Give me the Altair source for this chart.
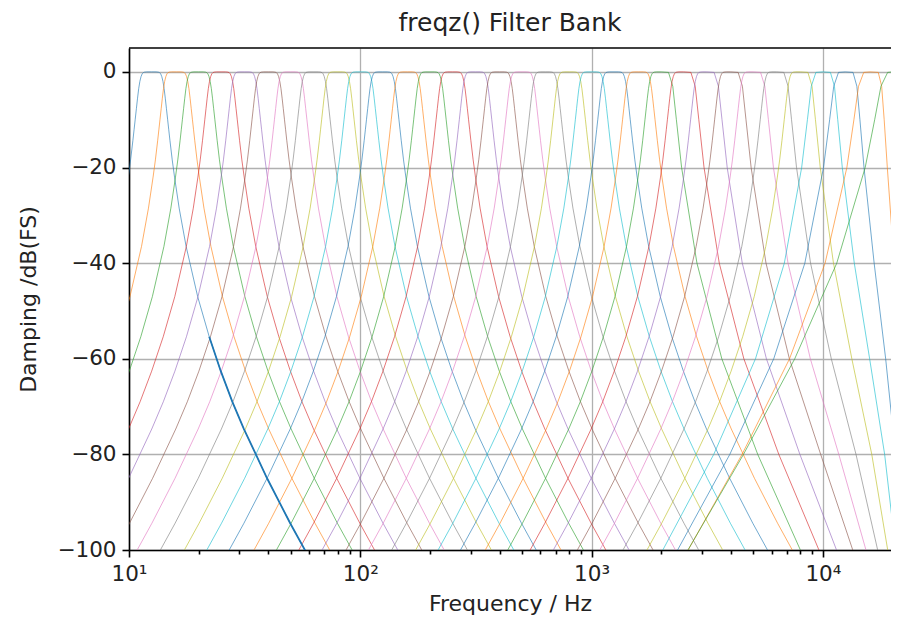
import altair as alt
import pandas as pd

title_text = "freqz() Filter Bank"
x_title = "Frequency / Hz"
y_title = "Damping /dB(FS)"

# centre frequencies of the 1/3-octave bands (Hz)
band_centers_hz = [12.5, 16, 20, 25, 31.5, 40, 50, 63, 80, 100, 125, 160, 200,
                   250, 315, 400, 500, 630, 800, 1000, 1250, 1600, 2000, 2500,
                   3150, 4000, 5000, 6300, 8000, 10000, 12500, 16000, 20000]

# shape of an ordinary band's skirt: distance from centre (decades) -> dB
skirt_offset_dec = [0.0, 0.02, 0.03, 0.035, 0.04, 0.045, 0.05, 0.055, 0.06, 0.065,
                    0.07, 0.075, 0.08, 0.09, 0.10, 0.12, 0.15, 0.20, 0.25, 0.30,
                    0.35, 0.40, 0.50, 0.60, 0.70, 0.80]
skirt_db = [0.0, 0.0, -0.05, -0.15, -0.4, -1.0, -2.0, -3.5, -5.5, -7.7,
            -9.9, -12.1, -14.3, -18.4, -22.0, -28.5, -36.5, -47.0, -55.4, -62.6,
            -69.0, -74.7, -85.0, -94.4, -103.2, -111.8]

# near the top of the range the skirts are squeezed towards the upper end:
# frequency (Hz) at which each of these levels is reached
level_db = [-0.1, -3, -10, -20, -40, -60, -80, -100, -110]
upper_skirt_hz = {
    2000:  [2150, 2244, 2326, 2450, 2854, 3656, 5227, 7993, 9852],
    2500:  [2687, 2805, 2908, 3063, 3564, 4553, 6448, 9613, 11603],
    3150:  [3386, 3534, 3663, 3857, 4482, 5699, 7954, 11453, 13477],
    4000:  [4301, 4488, 4651, 4895, 5676, 7164, 9782, 13463, 15393],
    5000:  [5377, 5610, 5812, 6113, 7066, 8825, 11719, 15354, 17089],
    6300:  [6778, 7069, 7319, 7691, 8844, 10873, 13906, 17250, 18703],
    8000:  [8612, 8976, 9286, 9741, 11109, 13340, 16267, 19066, 20193],
    10000: [10777, 11220, 11593, 12130, 13669, 15925, 18494, 20626, 21419],
    12500: [13497, 14025, 14460, 15057, 16657, 18680, 20592, 21981, 22468],
    16000: [17353, 17952, 18407, 18990, 20331, 21619, 22578, 23183, 23385],
    20000: [22009, 22440, 22700, 22965, 23374, 23638, 23795, 23884, 23913],
}
lower_skirt_hz = {
    10000: [9328, 8912, 8572, 8095, 6813, 5112, 3374, 2032, 1547],
    12500: [11681, 11141, 10694, 10063, 8355, 6130, 3959, 2354, 1787],
    16000: [15015, 14260, 13619, 12696, 10223, 7175, 4472, 2614, 1976],
    20000: [19057, 17825, 16745, 15236, 11480, 7556, 4536, 2610, 1967],
}

x_major = [10, 100, 1000, 10000]
x_minor = [20, 30, 40, 50, 60, 70, 80, 90,
           200, 300, 400, 500, 600, 700, 800, 900,
           2000, 3000, 4000, 5000, 6000, 7000, 8000, 9000]
y_ticks = [0, -20, -40, -60, -80, -100]
x_domain = [10, 19700]
y_domain = [-100, 5]

palette = ["#1f77b4", "#ff7f0e", "#2ca02c", "#d62728", "#9467bd",
           "#8c564b", "#e377c2", "#7f7f7f", "#bcbd22", "#17becf"]

rows = []
for b, fc in enumerate(band_centers_hz):
    pts = []
    if fc in lower_skirt_hz:
        pts += list(zip(reversed(lower_skirt_hz[fc]), reversed(level_db)))
    else:
        pts += [(fc / 10 ** o, d) for o, d in zip(reversed(skirt_offset_dec[1:]), reversed(skirt_db[1:]))]
    pts.append((fc, 0.0))
    if fc in upper_skirt_hz:
        pts += list(zip(upper_skirt_hz[fc], level_db))
    else:
        pts += [(fc * 10 ** o, d) for o, d in zip(skirt_offset_dec[1:], skirt_db[1:])]
    for i, (f, d) in enumerate(pts):
        rows.append({"band": b, "i": i, "f": f, "db": d})
df = pd.DataFrame(rows)

colors = [palette[k % len(palette)] for k in range(len(band_centers_hz))]

W, H = 762, 502
FONT = "DejaVu Sans"
major_test = "indexof([10, 100, 1000, 10000], datum.value) >= 0"

x_axis = alt.Axis(
    values=x_major + x_minor,
    labelExpr=("datum.value == 10 ? '10\u00b9' : datum.value == 100 ? '10\u00b2' : "
               "datum.value == 1000 ? '10\u00b3' : datum.value == 10000 ? '10\u2074' : ''"),
    tickSize={"condition": {"test": major_test, "value": 7}, "value": 4},
    gridOpacity={"condition": {"test": major_test, "value": 1}, "value": 0},
    title=x_title, labelPadding=6, titlePadding=9, labelFlush=False,
)
y_axis = alt.Axis(
    values=y_ticks,
    labelExpr="replace(format(datum.value, 'd'), '-', '\u2212')",
    tickSize=7, labelPadding=6, labelFlush=False,
    title=y_title, titlePadding=16,
)

x_enc = alt.X("f:Q", scale=alt.Scale(type="log", domain=x_domain, nice=False), axis=x_axis)
y_enc = alt.Y("db:Q", scale=alt.Scale(domain=y_domain, nice=False, zero=False), axis=y_axis)

lines = alt.Chart(df).mark_line(strokeWidth=0.7, opacity=0.9, clip=True).encode(
    x=x_enc, y=y_enc,
    color=alt.Color("band:N", scale=alt.Scale(domain=list(range(len(band_centers_hz))), range=colors), legend=None),
    order="i:Q",
)

# the lowest band's upper skirt shows up as a heavier line in the lower part
heavy = alt.Chart(df).transform_filter(
    (alt.datum.band == 0) & (alt.datum.f > band_centers_hz[0]) & (alt.datum.db <= -55)
).mark_line(strokeWidth=1.8, color=palette[0], clip=True).encode(
    x=x_enc, y=y_enc, order="i:Q",
)

top_spine = alt.Chart(pd.DataFrame({"v": [0]})).mark_rule(color="black", strokeWidth=1.6).encode(
    x=alt.value(0), x2=alt.value(W), y=alt.value(0)
)

chart = alt.layer(lines, heavy, top_spine).properties(
    width=W, height=H,
    title=alt.TitleParams(title_text, fontSize=25, font=FONT, fontWeight="normal",
                          color="#222", anchor="middle", offset=11),
    autosize=alt.AutoSizeParams(type="none"),
    padding={"left": 121, "top": 40, "right": 0, "bottom": 75},
).configure_view(strokeWidth=0).configure_axis(
    labelFont=FONT, titleFont=FONT, labelFontSize=21.5, titleFontSize=22,
    labelColor="#222", titleColor="#222", titleFontWeight="normal",
    domainColor="black", domainWidth=1.6, tickColor="black", tickWidth=1.6,
    gridColor="#b0b0b0", gridWidth=1.3,
)

chart.save("out.html", embed_options={"renderer": "svg", "actions": False})
